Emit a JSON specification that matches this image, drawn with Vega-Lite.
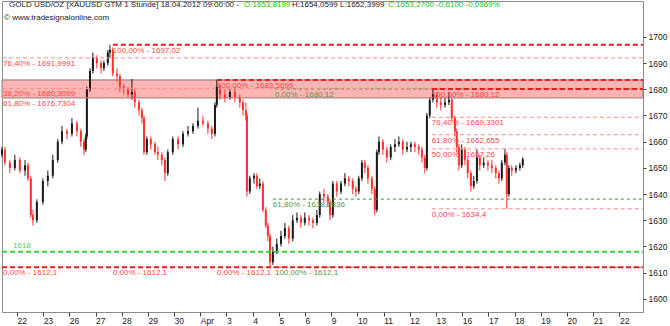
{
"$schema":"https://vega.github.io/schema/vega-lite/v6.json",
"width":641,"height":311,
"autosize":{"type":"none"},
"padding":{"left":2,"top":1,"right":27,"bottom":14},
"background":"white",
"config":{"view":{"stroke":"#8c8c8c","strokeWidth":1},"font":"Liberation Sans","text":{"font":"Liberation Sans"}},
"resolve":{"axis":{"x":"independent","y":"independent"}},
"datasets":{
"band":[{"d":-0.57,"d2":23.9,"p":1676.7304,"p2":1683.5699}],
"candles":[
{"d":-0.57,"o":1655,"h":1658,"l":1654,"c":1657},
{"d":-0.46,"o":1657,"h":1658,"l":1651,"c":1652},
{"d":-0.27,"o":1652,"h":1653,"l":1648,"c":1650},
{"d":-0.08,"o":1650,"h":1655,"l":1649,"c":1653},
{"d":0.11,"o":1653,"h":1654,"l":1648,"c":1649},
{"d":0.31,"o":1649,"h":1653,"l":1647,"c":1651},
{"d":0.42,"o":1651,"h":1652,"l":1645,"c":1646},
{"d":0.53,"o":1646,"h":1647,"l":1631,"c":1632},
{"d":0.61,"o":1632,"h":1634,"l":1628,"c":1630},
{"d":0.76,"o":1630,"h":1638,"l":1629,"c":1637},
{"d":0.99,"o":1637,"h":1646,"l":1636,"c":1645},
{"d":1.18,"o":1645,"h":1649,"l":1643,"c":1647},
{"d":1.37,"o":1647,"h":1655,"l":1646,"c":1653},
{"d":1.56,"o":1653,"h":1661,"l":1652,"c":1660},
{"d":1.72,"o":1660,"h":1666,"l":1659,"c":1664},
{"d":1.91,"o":1664,"h":1665,"l":1661,"c":1663},
{"d":2.1,"o":1663,"h":1669,"l":1662,"c":1667},
{"d":2.29,"o":1667,"h":1668,"l":1662,"c":1664},
{"d":2.44,"o":1664,"h":1665,"l":1658,"c":1660},
{"d":2.56,"o":1660,"h":1661,"l":1655,"c":1657},
{"d":2.63,"o":1657,"h":1663,"l":1656,"c":1662},
{"d":2.67,"o":1662,"h":1681,"l":1661,"c":1680},
{"d":2.79,"o":1680,"h":1688,"l":1679,"c":1687},
{"d":2.9,"o":1687,"h":1694,"l":1686,"c":1692},
{"d":3.05,"o":1692,"h":1693,"l":1688,"c":1690},
{"d":3.21,"o":1690,"h":1691,"l":1686,"c":1688},
{"d":3.32,"o":1688,"h":1691,"l":1687,"c":1690},
{"d":3.47,"o":1690,"h":1695,"l":1689,"c":1694},
{"d":3.55,"o":1694,"h":1697,"l":1692,"c":1695},
{"d":3.66,"o":1695,"h":1696,"l":1685,"c":1686},
{"d":3.82,"o":1686,"h":1688,"l":1683,"c":1685},
{"d":3.93,"o":1685,"h":1686,"l":1679,"c":1681},
{"d":4.08,"o":1681,"h":1682,"l":1678,"c":1680},
{"d":4.24,"o":1680,"h":1681,"l":1677,"c":1678},
{"d":4.39,"o":1678,"h":1684,"l":1676,"c":1679},
{"d":4.5,"o":1679,"h":1680,"l":1673,"c":1675},
{"d":4.66,"o":1675,"h":1676,"l":1670,"c":1672},
{"d":4.77,"o":1672,"h":1673,"l":1667,"c":1669},
{"d":4.85,"o":1669,"h":1670,"l":1655,"c":1656},
{"d":4.96,"o":1656,"h":1662,"l":1655,"c":1661},
{"d":5.11,"o":1661,"h":1662,"l":1657,"c":1659},
{"d":5.27,"o":1659,"h":1660,"l":1655,"c":1656},
{"d":5.38,"o":1656,"h":1658,"l":1653,"c":1655},
{"d":5.53,"o":1655,"h":1656,"l":1651,"c":1653},
{"d":5.65,"o":1653,"h":1654,"l":1645,"c":1648},
{"d":5.76,"o":1648,"h":1657,"l":1647,"c":1656},
{"d":5.95,"o":1656,"h":1662,"l":1655,"c":1661},
{"d":6.15,"o":1661,"h":1662,"l":1657,"c":1659},
{"d":6.34,"o":1659,"h":1664,"l":1658,"c":1663},
{"d":6.53,"o":1663,"h":1666,"l":1662,"c":1664},
{"d":6.72,"o":1664,"h":1667,"l":1663,"c":1666},
{"d":6.91,"o":1666,"h":1673,"l":1665,"c":1668},
{"d":7.1,"o":1668,"h":1670,"l":1666,"c":1667},
{"d":7.29,"o":1667,"h":1668,"l":1663,"c":1665},
{"d":7.44,"o":1665,"h":1666,"l":1661,"c":1663},
{"d":7.56,"o":1663,"h":1675,"l":1662,"c":1674},
{"d":7.63,"o":1674,"h":1683.5,"l":1673,"c":1681},
{"d":7.75,"o":1681,"h":1682,"l":1676,"c":1678},
{"d":7.94,"o":1678,"h":1680,"l":1675,"c":1677},
{"d":8.13,"o":1677,"h":1680,"l":1676,"c":1679},
{"d":8.32,"o":1679,"h":1681,"l":1675,"c":1677},
{"d":8.51,"o":1677,"h":1678,"l":1673,"c":1675},
{"d":8.63,"o":1675,"h":1676,"l":1670,"c":1672},
{"d":8.74,"o":1672,"h":1675,"l":1668,"c":1670},
{"d":8.78,"o":1670,"h":1671,"l":1639,"c":1641},
{"d":8.89,"o":1641,"h":1647,"l":1640,"c":1646},
{"d":9.05,"o":1646,"h":1648,"l":1644,"c":1647},
{"d":9.16,"o":1647,"h":1648,"l":1642,"c":1643},
{"d":9.27,"o":1643,"h":1646,"l":1642,"c":1644},
{"d":9.39,"o":1644,"h":1645,"l":1633,"c":1634},
{"d":9.5,"o":1634,"h":1635,"l":1627,"c":1628},
{"d":9.58,"o":1628,"h":1629,"l":1622,"c":1624},
{"d":9.66,"o":1624,"h":1625,"l":1612.1,"c":1614},
{"d":9.77,"o":1614,"h":1620,"l":1613,"c":1618},
{"d":9.92,"o":1618,"h":1623,"l":1617,"c":1621},
{"d":10.08,"o":1621,"h":1626,"l":1620,"c":1624},
{"d":10.23,"o":1624,"h":1629,"l":1623,"c":1627},
{"d":10.38,"o":1627,"h":1628,"l":1621,"c":1623},
{"d":10.53,"o":1623,"h":1632,"l":1622,"c":1630},
{"d":10.69,"o":1630,"h":1633,"l":1629,"c":1631},
{"d":10.84,"o":1631,"h":1632,"l":1627,"c":1629},
{"d":10.99,"o":1629,"h":1633,"l":1628,"c":1631},
{"d":11.15,"o":1631,"h":1632,"l":1628,"c":1630},
{"d":11.3,"o":1630,"h":1631,"l":1627,"c":1629},
{"d":11.45,"o":1629,"h":1634,"l":1628,"c":1632},
{"d":11.56,"o":1632,"h":1641,"l":1631,"c":1640},
{"d":11.72,"o":1640,"h":1642,"l":1637,"c":1639},
{"d":11.87,"o":1639,"h":1640,"l":1635,"c":1637},
{"d":11.95,"o":1637,"h":1638,"l":1630,"c":1632},
{"d":12.06,"o":1632,"h":1645,"l":1631,"c":1644},
{"d":12.21,"o":1644,"h":1645,"l":1639,"c":1641},
{"d":12.37,"o":1641,"h":1645,"l":1640,"c":1644},
{"d":12.52,"o":1644,"h":1648,"l":1643,"c":1646},
{"d":12.67,"o":1646,"h":1647,"l":1643,"c":1645},
{"d":12.82,"o":1645,"h":1646,"l":1640,"c":1642},
{"d":12.94,"o":1642,"h":1643,"l":1639,"c":1641},
{"d":13.05,"o":1641,"h":1647,"l":1640,"c":1646},
{"d":13.17,"o":1646,"h":1653,"l":1645,"c":1652},
{"d":13.28,"o":1652,"h":1653,"l":1648,"c":1650},
{"d":13.4,"o":1650,"h":1651,"l":1644,"c":1646},
{"d":13.55,"o":1646,"h":1647,"l":1640,"c":1642},
{"d":13.66,"o":1642,"h":1643,"l":1632,"c":1634},
{"d":13.74,"o":1634,"h":1657,"l":1633,"c":1656},
{"d":13.82,"o":1656,"h":1662,"l":1655,"c":1660},
{"d":13.97,"o":1660,"h":1661,"l":1655,"c":1657},
{"d":14.12,"o":1657,"h":1658,"l":1652,"c":1654},
{"d":14.27,"o":1654,"h":1659,"l":1653,"c":1658},
{"d":14.43,"o":1658,"h":1661,"l":1656,"c":1659},
{"d":14.58,"o":1659,"h":1662,"l":1658,"c":1660},
{"d":14.73,"o":1660,"h":1661,"l":1655,"c":1657},
{"d":14.89,"o":1657,"h":1660,"l":1656,"c":1658},
{"d":15.04,"o":1658,"h":1660,"l":1656,"c":1659},
{"d":15.19,"o":1659,"h":1660,"l":1656,"c":1658},
{"d":15.34,"o":1658,"h":1659,"l":1655,"c":1657},
{"d":15.46,"o":1657,"h":1658,"l":1652,"c":1654},
{"d":15.57,"o":1654,"h":1655,"l":1648,"c":1650},
{"d":15.65,"o":1650,"h":1671,"l":1649,"c":1670},
{"d":15.76,"o":1670,"h":1677,"l":1669,"c":1676},
{"d":15.88,"o":1676,"h":1680.12,"l":1675,"c":1678},
{"d":16.03,"o":1678,"h":1679,"l":1673,"c":1675},
{"d":16.18,"o":1675,"h":1677,"l":1672,"c":1674},
{"d":16.34,"o":1674,"h":1677,"l":1673,"c":1675},
{"d":16.49,"o":1675,"h":1679,"l":1674,"c":1676},
{"d":16.6,"o":1676,"h":1677,"l":1668,"c":1669},
{"d":16.72,"o":1669,"h":1670,"l":1662,"c":1664},
{"d":16.79,"o":1664,"h":1665,"l":1656,"c":1658},
{"d":16.87,"o":1658,"h":1659,"l":1649,"c":1651},
{"d":16.98,"o":1651,"h":1659,"l":1650,"c":1657},
{"d":17.1,"o":1657,"h":1658,"l":1651,"c":1653},
{"d":17.21,"o":1653,"h":1654,"l":1646,"c":1648},
{"d":17.33,"o":1648,"h":1649,"l":1641,"c":1643},
{"d":17.44,"o":1643,"h":1647,"l":1642,"c":1645},
{"d":17.56,"o":1645,"h":1657,"l":1644,"c":1654},
{"d":17.67,"o":1654,"h":1655,"l":1649,"c":1651},
{"d":17.82,"o":1651,"h":1654,"l":1650,"c":1652},
{"d":17.98,"o":1652,"h":1653,"l":1649,"c":1651},
{"d":18.13,"o":1651,"h":1653,"l":1648,"c":1650},
{"d":18.28,"o":1650,"h":1651,"l":1646,"c":1648},
{"d":18.4,"o":1648,"h":1649,"l":1644,"c":1646},
{"d":18.51,"o":1646,"h":1653,"l":1645,"c":1652},
{"d":18.63,"o":1652,"h":1657.3,"l":1651,"c":1655},
{"d":18.7,"o":1655,"h":1656,"l":1634.4,"c":1640},
{"d":18.78,"o":1640,"h":1651,"l":1639,"c":1650},
{"d":18.89,"o":1650,"h":1651,"l":1647,"c":1649},
{"d":19.05,"o":1649,"h":1651,"l":1648,"c":1650},
{"d":19.2,"o":1650,"h":1652,"l":1649,"c":1651},
{"d":19.31,"o":1651,"h":1654.06,"l":1650,"c":1653.27}
],
"levels":[
{"p":1680.12,"d":9.85,"d2":23.9,"k":"green"},
{"p":1638.0836,"d":9.77,"d2":23.9,"k":"green"},
{"p":1612.1,"d":9.77,"d2":23.9,"k":"green"},
{"p":1618,"d":-0.57,"d2":23.9,"k":"lime"},
{"p":1691.9991,"d":-0.57,"d2":23.9,"k":"soft"},
{"p":1680.3099,"d":-0.57,"d2":23.9,"k":"soft"},
{"p":1676.7304,"d":-0.57,"d2":23.9,"k":"soft"},
{"p":1669.3301,"d":15.84,"d2":23.9,"k":"soft"},
{"p":1662.655,"d":15.84,"d2":23.9,"k":"soft"},
{"p":1657.26,"d":15.84,"d2":23.9,"k":"soft"},
{"p":1634.4,"d":15.84,"d2":23.9,"k":"soft"},
{"p":1697.02,"d":3.66,"d2":23.9,"k":"strong"},
{"p":1612.1,"d":-0.57,"d2":23.9,"k":"strong"},
{"p":1683.5699,"d":7.63,"d2":23.9,"k":"strong"},
{"p":1680.12,"d":15.84,"d2":23.9,"k":"strong"}
],
"labels":[
{"d":3.66,"p":1697.02,"t":"100,00% - 1697,02","k":"red"},
{"d":-0.53,"p":1691.9991,"t":"76,40% - 1691,9991","k":"red"},
{"d":-0.53,"p":1680.3099,"t":"38,20% - 1680,3099","k":"red"},
{"d":-0.53,"p":1676.7304,"t":"61,80% - 1676,7304","k":"red"},
{"d":7.63,"p":1683.5699,"t":"100,00% - 1683,5699","k":"red"},
{"d":9.85,"p":1680.12,"t":"0,00% - 1680,12","k":"green"},
{"d":15.84,"p":1680.12,"t":"100,00% - 1680,12","k":"red"},
{"d":15.84,"p":1669.3301,"t":"76,40% - 1669,3301","k":"red"},
{"d":15.84,"p":1662.655,"t":"61,80% - 1662,655","k":"red"},
{"d":15.84,"p":1657.26,"t":"50,00% - 1657,26","k":"red"},
{"d":9.77,"p":1638.0836,"t":"61,80% - 1638,0836","k":"green"},
{"d":15.84,"p":1634.4,"t":"0,00% - 1634,4","k":"red"},
{"d":-0.53,"p":1612.1,"t":"0,00% - 1612,1","k":"red"},
{"d":3.66,"p":1612.1,"t":"0,00% - 1612,1","k":"red"},
{"d":7.63,"p":1612.1,"t":"0,00% - 1612,1","k":"red"},
{"d":9.85,"p":1612.1,"t":"100,00% - 1612,1","k":"green"}
],
"above":[{"d":-0.15,"p":1618,"t":"1618"}],
"header":[
{"d":-0.30,"p":1712.2,"t":"GOLD USD/OZ [XAUUSD GTM  1 Stunde] 18.04.2012 09:00:00 -","k":"black"},
{"d":8.67,"p":1712.2,"t":"O:1653,8199","k":"green"},
{"d":10.5,"p":1712.2,"t":"H:1654,0599 L:1652,3999","k":"black"},
{"d":14.17,"p":1712.2,"t":"C:1653,2700 -0,6100 -0,0369%","k":"green"},
{"d":-0.49,"p":1707.4,"t":"© www.tradesignalonline.com","k":"black"}
]
},
"layer":[
{"data":{"name":"band"},
 "mark":{"type":"rect","fill":"#ffb4b4","stroke":"#7a7a7a","strokeWidth":1},
 "encoding":{
  "x":{"field":"d","type":"quantitative","scale":{"domain":[-0.57,23.9],"nice":false,"zero":false},
   "axis":{"values":[0,1,2,3,4,5,6,7,8,9,10,11,12,13,14,15,16,17,18,19,20,21,22,23],
    "labelExpr":"['22','23','26','27','28','29','30','Apr','3','4','5','6','9','10','11','12','13','16','17','18','19','20','21','22'][datum.value]",
    "title":null,"grid":false,"domain":false,"tickSize":4,"tickColor":"#404040","labelAlign":"left","labelBaseline":"top","labelPadding":0,"labelDx":1,"labelFontSize":8.5,"labelColor":"#202020","labelOverlap":false,"labelBound":false,"labelFlush":false}},
  "x2":{"field":"d2"},
  "y":{"field":"p","type":"quantitative","scale":{"domain":[1595.0,1713.7],"nice":false,"zero":false},
   "axis":{"orient":"right","values":[1600,1610,1620,1630,1640,1650,1660,1670,1680,1690,1700],"format":"d","grid":false,"domain":false,"tickSize":3,"tickColor":"#404040","labelPadding":2,"labelFontSize":8.5,"labelColor":"#202020","labelBaseline":"middle","title":null}},
  "y2":{"field":"p2"}
 }},
{"data":{"name":"candles"},
 "mark":{"type":"rule","strokeWidth":1},
 "encoding":{
  "x":{"field":"d","type":"quantitative","scale":{"domain":[-0.57,23.9],"nice":false,"zero":false},"axis":null},
  "y":{"field":"l","type":"quantitative","scale":{"domain":[1595.0,1713.7],"nice":false,"zero":false},"axis":null},
  "y2":{"field":"h"},
  "color":{"condition":{"test":"datum.c >= datum.o","value":"#1a1a1a"},"value":"#ff3030"}
 }},
{"data":{"name":"candles"},
 "mark":{"type":"rule","strokeWidth":2},
 "encoding":{
  "x":{"field":"d","type":"quantitative","scale":{"domain":[-0.57,23.9],"nice":false,"zero":false},"axis":null},
  "y":{"field":"o","type":"quantitative","scale":{"domain":[1595.0,1713.7],"nice":false,"zero":false},"axis":null},
  "y2":{"field":"c"},
  "color":{"condition":{"test":"datum.c >= datum.o","value":"#1a1a1a"},"value":"#ff3030"}
 }},
{"data":{"name":"levels"},"transform":[{"filter":"datum.k==='green'"}],
 "mark":{"type":"rule","stroke":"#3f8f3f","strokeWidth":1,"strokeDash":[3,3]},
 "encoding":{
  "x":{"field":"d","type":"quantitative","scale":{"domain":[-0.57,23.9],"nice":false,"zero":false},"axis":null},
  "x2":{"field":"d2"},
  "y":{"field":"p","type":"quantitative","scale":{"domain":[1595.0,1713.7],"nice":false,"zero":false},"axis":null}
 }},
{"data":{"name":"levels"},"transform":[{"filter":"datum.k==='lime'"}],
 "mark":{"type":"rule","stroke":"#33d633","strokeWidth":2,"strokeDash":[5,3]},
 "encoding":{
  "x":{"field":"d","type":"quantitative","scale":{"domain":[-0.57,23.9],"nice":false,"zero":false},"axis":null},
  "x2":{"field":"d2"},
  "y":{"field":"p","type":"quantitative","scale":{"domain":[1595.0,1713.7],"nice":false,"zero":false},"axis":null}
 }},
{"data":{"name":"levels"},"transform":[{"filter":"datum.k==='soft'"}],
 "mark":{"type":"rule","stroke":"#ff8c8c","strokeWidth":1,"strokeDash":[4,3]},
 "encoding":{
  "x":{"field":"d","type":"quantitative","scale":{"domain":[-0.57,23.9],"nice":false,"zero":false},"axis":null},
  "x2":{"field":"d2"},
  "y":{"field":"p","type":"quantitative","scale":{"domain":[1595.0,1713.7],"nice":false,"zero":false},"axis":null}
 }},
{"data":{"name":"levels"},"transform":[{"filter":"datum.k==='strong'"}],
 "mark":{"type":"rule","stroke":"#ee1c1c","strokeWidth":2,"strokeDash":[5,3]},
 "encoding":{
  "x":{"field":"d","type":"quantitative","scale":{"domain":[-0.57,23.9],"nice":false,"zero":false},"axis":null},
  "x2":{"field":"d2"},
  "y":{"field":"p","type":"quantitative","scale":{"domain":[1595.0,1713.7],"nice":false,"zero":false},"axis":null}
 }},
{"data":{"name":"labels"},
 "mark":{"type":"text","align":"left","baseline":"top","dy":2,"fontSize":8,"font":"Liberation Sans"},
 "encoding":{
  "x":{"field":"d","type":"quantitative","scale":{"domain":[-0.57,23.9],"nice":false,"zero":false},"axis":null},
  "y":{"field":"p","type":"quantitative","scale":{"domain":[1595.0,1713.7],"nice":false,"zero":false},"axis":null},
  "text":{"field":"t"},
  "color":{"condition":{"test":"datum.k==='green'","value":"#4f994f"},"value":"#ff4646"}
 }},
{"data":{"name":"above"},
 "mark":{"type":"text","align":"left","baseline":"bottom","dy":-2,"fontSize":8,"font":"Liberation Sans","color":"#5fcc5f"},
 "encoding":{
  "x":{"field":"d","type":"quantitative","scale":{"domain":[-0.57,23.9],"nice":false,"zero":false},"axis":null},
  "y":{"field":"p","type":"quantitative","scale":{"domain":[1595.0,1713.7],"nice":false,"zero":false},"axis":null},
  "text":{"field":"t"}
 }},
{"data":{"name":"header"},
 "mark":{"type":"text","align":"left","baseline":"middle","fontSize":8,"font":"Liberation Sans"},
 "encoding":{
  "x":{"field":"d","type":"quantitative","scale":{"domain":[-0.57,23.9],"nice":false,"zero":false},"axis":null},
  "y":{"field":"p","type":"quantitative","scale":{"domain":[1595.0,1713.7],"nice":false,"zero":false},"axis":null},
  "text":{"field":"t"},
  "color":{"condition":{"test":"datum.k==='green'","value":"#22c022"},"value":"#1a1a1a"}
 }}
]
}
